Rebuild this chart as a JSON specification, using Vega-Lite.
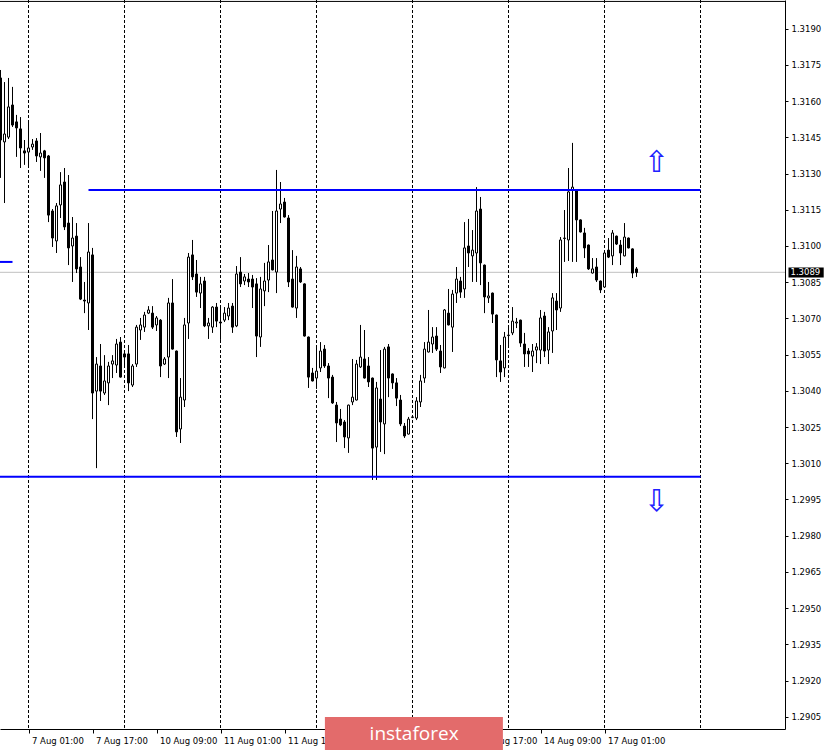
{
  "$schema": "https://vega.github.io/schema/vega-lite/v6.json",
  "width": 785,
  "height": 729,
  "autosize": {"type": "none"},
  "padding": {"left": 0, "top": 0, "right": 41, "bottom": 21},
  "background": "white",
  "config": {"view": {"stroke": null}},
  "datasets": {
    "candles": [
      {"i":1,"o":1.31696,"h":1.31729,"l":1.31282,"c":1.31439},
      {"i":2,"o":1.31431,"h":1.31679,"l":1.31178,"c":1.31464},
      {"i":3,"o":1.31451,"h":1.31696,"l":1.31443,"c":1.31576},
      {"i":4,"o":1.31584,"h":1.31659,"l":1.31493,"c":1.31501},
      {"i":5,"o":1.31514,"h":1.31543,"l":1.31369,"c":1.31489},
      {"i":6,"o":1.31485,"h":1.31534,"l":1.31323,"c":1.31406},
      {"i":7,"o":1.31394,"h":1.31439,"l":1.31336,"c":1.31385},
      {"i":8,"o":1.31389,"h":1.31514,"l":1.31327,"c":1.31406},
      {"i":9,"o":1.31410,"h":1.31443,"l":1.31398,"c":1.31422},
      {"i":10,"o":1.31435,"h":1.31447,"l":1.31348,"c":1.31373},
      {"i":11,"o":1.31369,"h":1.31468,"l":1.31311,"c":1.31385},
      {"i":12,"o":1.31394,"h":1.31398,"l":1.31282,"c":1.31365},
      {"i":13,"o":1.31373,"h":1.31377,"l":1.31099,"c":1.31128},
      {"i":14,"o":1.31145,"h":1.31153,"l":1.30996,"c":1.31033},
      {"i":15,"o":1.31021,"h":1.31178,"l":1.30971,"c":1.31166},
      {"i":16,"o":1.31170,"h":1.31306,"l":1.31116,"c":1.31253},
      {"i":17,"o":1.31265,"h":1.31323,"l":1.31066,"c":1.31079},
      {"i":18,"o":1.31095,"h":1.31294,"l":1.30921,"c":1.30992},
      {"i":19,"o":1.31000,"h":1.31120,"l":1.30851,"c":1.31033},
      {"i":20,"o":1.31041,"h":1.31095,"l":1.30888,"c":1.30905},
      {"i":21,"o":1.30913,"h":1.30954,"l":1.30776,"c":1.30780},
      {"i":22,"o":1.30776,"h":1.30851,"l":1.30722,"c":1.30772},
      {"i":23,"o":1.30764,"h":1.31095,"l":1.30652,"c":1.30975},
      {"i":24,"o":1.30963,"h":1.30992,"l":1.30283,"c":1.30391},
      {"i":25,"o":1.30399,"h":1.30540,"l":1.30080,"c":1.30511},
      {"i":26,"o":1.30503,"h":1.30594,"l":1.30358,"c":1.30399},
      {"i":27,"o":1.30391,"h":1.30548,"l":1.30383,"c":1.30441},
      {"i":28,"o":1.30433,"h":1.30520,"l":1.30341,"c":1.30503},
      {"i":29,"o":1.30511,"h":1.30548,"l":1.30453,"c":1.30524},
      {"i":30,"o":1.30507,"h":1.30615,"l":1.30474,"c":1.30594},
      {"i":31,"o":1.30602,"h":1.30623,"l":1.30455,"c":1.30457},
      {"i":32,"o":1.30553,"h":1.30561,"l":1.30495,"c":1.30540},
      {"i":33,"o":1.30553,"h":1.30590,"l":1.30399,"c":1.30433},
      {"i":34,"o":1.30424,"h":1.30511,"l":1.30416,"c":1.30503},
      {"i":35,"o":1.30511,"h":1.30673,"l":1.30499,"c":1.30664},
      {"i":36,"o":1.30652,"h":1.30702,"l":1.30611,"c":1.30673},
      {"i":37,"o":1.30664,"h":1.30727,"l":1.30644,"c":1.30714},
      {"i":38,"o":1.30722,"h":1.30751,"l":1.30718,"c":1.30735},
      {"i":39,"o":1.30722,"h":1.30751,"l":1.30656,"c":1.30664},
      {"i":40,"o":1.30673,"h":1.30710,"l":1.30648,"c":1.30702},
      {"i":41,"o":1.30693,"h":1.30697,"l":1.30457,"c":1.30503},
      {"i":42,"o":1.30511,"h":1.30540,"l":1.30507,"c":1.30532},
      {"i":43,"o":1.30540,"h":1.30785,"l":1.30453,"c":1.30764},
      {"i":44,"o":1.30764,"h":1.30863,"l":1.30571,"c":1.30573},
      {"i":45,"o":1.30565,"h":1.30567,"l":1.30209,"c":1.30230},
      {"i":46,"o":1.30242,"h":1.30453,"l":1.30184,"c":1.30374},
      {"i":47,"o":1.30362,"h":1.30702,"l":1.30333,"c":1.30673},
      {"i":48,"o":1.30681,"h":1.30971,"l":1.30615,"c":1.30954},
      {"i":49,"o":1.30963,"h":1.31025,"l":1.30859,"c":1.30872},
      {"i":50,"o":1.30884,"h":1.30942,"l":1.30789,"c":1.30809},
      {"i":51,"o":1.30805,"h":1.30872,"l":1.30743,"c":1.30843},
      {"i":52,"o":1.30855,"h":1.30872,"l":1.30664,"c":1.30669},
      {"i":53,"o":1.30669,"h":1.30702,"l":1.30615,"c":1.30681},
      {"i":54,"o":1.30664,"h":1.30751,"l":1.30640,"c":1.30747},
      {"i":55,"o":1.30747,"h":1.30764,"l":1.30664,"c":1.30689},
      {"i":56,"o":1.30685,"h":1.30747,"l":1.30611,"c":1.30681},
      {"i":57,"o":1.30693,"h":1.30747,"l":1.30685,"c":1.30722},
      {"i":58,"o":1.30710,"h":1.30764,"l":1.30693,"c":1.30743},
      {"i":59,"o":1.30751,"h":1.30764,"l":1.30640,"c":1.30664},
      {"i":60,"o":1.30669,"h":1.30917,"l":1.30664,"c":1.30884},
      {"i":61,"o":1.30892,"h":1.30954,"l":1.30830,"c":1.30843},
      {"i":62,"o":1.30855,"h":1.30884,"l":1.30838,"c":1.30872},
      {"i":63,"o":1.30863,"h":1.30888,"l":1.30830,"c":1.30851},
      {"i":64,"o":1.30863,"h":1.30880,"l":1.30743,"c":1.30830},
      {"i":65,"o":1.30843,"h":1.30867,"l":1.30540,"c":1.30627},
      {"i":66,"o":1.30623,"h":1.30872,"l":1.30582,"c":1.30822},
      {"i":67,"o":1.30814,"h":1.30930,"l":1.30751,"c":1.30855},
      {"i":68,"o":1.30859,"h":1.31004,"l":1.30809,"c":1.30934},
      {"i":69,"o":1.30942,"h":1.31145,"l":1.30899,"c":1.30901},
      {"i":70,"o":1.30892,"h":1.31315,"l":1.30805,"c":1.31145},
      {"i":71,"o":1.31153,"h":1.31265,"l":1.31095,"c":1.31174},
      {"i":72,"o":1.31182,"h":1.31199,"l":1.31118,"c":1.31120},
      {"i":73,"o":1.31116,"h":1.31128,"l":1.30830,"c":1.30851},
      {"i":74,"o":1.30863,"h":1.30983,"l":1.30745,"c":1.30747},
      {"i":75,"o":1.30743,"h":1.30959,"l":1.30702,"c":1.30913},
      {"i":76,"o":1.30905,"h":1.30913,"l":1.30847,"c":1.30851},
      {"i":77,"o":1.30843,"h":1.30845,"l":1.30625,"c":1.30627},
      {"i":78,"o":1.30623,"h":1.30625,"l":1.30412,"c":1.30457},
      {"i":79,"o":1.30474,"h":1.30495,"l":1.30439,"c":1.30441},
      {"i":80,"o":1.30453,"h":1.30582,"l":1.30408,"c":1.30482},
      {"i":81,"o":1.30495,"h":1.30602,"l":1.30478,"c":1.30565},
      {"i":82,"o":1.30573,"h":1.30590,"l":1.30495,"c":1.30503},
      {"i":83,"o":1.30503,"h":1.30515,"l":1.30370,"c":1.30453},
      {"i":84,"o":1.30457,"h":1.30466,"l":1.30346,"c":1.30350},
      {"i":85,"o":1.30341,"h":1.30354,"l":1.30188,"c":1.30267},
      {"i":86,"o":1.30283,"h":1.30325,"l":1.30254,"c":1.30259},
      {"i":87,"o":1.30271,"h":1.30279,"l":1.30163,"c":1.30209},
      {"i":88,"o":1.30205,"h":1.30343,"l":1.30143,"c":1.30341},
      {"i":89,"o":1.30354,"h":1.30532,"l":1.30341,"c":1.30374},
      {"i":90,"o":1.30362,"h":1.30528,"l":1.30360,"c":1.30511},
      {"i":91,"o":1.30499,"h":1.30673,"l":1.30495,"c":1.30540},
      {"i":92,"o":1.30532,"h":1.30652,"l":1.30451,"c":1.30453},
      {"i":93,"o":1.30503,"h":1.30540,"l":1.30416,"c":1.30437},
      {"i":94,"o":1.30453,"h":1.30455,"l":1.30031,"c":1.30163},
      {"i":95,"o":1.30167,"h":1.30437,"l":1.30031,"c":1.30412},
      {"i":96,"o":1.30366,"h":1.30569,"l":1.30147,"c":1.30271},
      {"i":97,"o":1.30263,"h":1.30582,"l":1.30138,"c":1.30573},
      {"i":98,"o":1.30582,"h":1.30594,"l":1.30374,"c":1.30453},
      {"i":99,"o":1.30470,"h":1.30472,"l":1.30408,"c":1.30433},
      {"i":100,"o":1.30433,"h":1.30453,"l":1.30337,"c":1.30370},
      {"i":101,"o":1.30362,"h":1.30383,"l":1.30254,"c":1.30263},
      {"i":102,"o":1.30254,"h":1.30267,"l":1.30205,"c":1.30213},
      {"i":103,"o":1.30221,"h":1.30292,"l":1.30219,"c":1.30283},
      {"i":104,"o":1.30290,"h":1.30300,"l":1.30287,"c":1.30292},
      {"i":105,"o":1.30287,"h":1.30374,"l":1.30279,"c":1.30358},
      {"i":106,"o":1.30354,"h":1.30466,"l":1.30333,"c":1.30441},
      {"i":107,"o":1.30453,"h":1.30602,"l":1.30433,"c":1.30573},
      {"i":108,"o":1.30561,"h":1.30735,"l":1.30559,"c":1.30602},
      {"i":109,"o":1.30594,"h":1.30664,"l":1.30557,"c":1.30623},
      {"i":110,"o":1.30627,"h":1.30664,"l":1.30565,"c":1.30573},
      {"i":111,"o":1.30565,"h":1.30590,"l":1.30474,"c":1.30499},
      {"i":112,"o":1.30495,"h":1.30739,"l":1.30493,"c":1.30735},
      {"i":113,"o":1.30722,"h":1.30822,"l":1.30671,"c":1.30673},
      {"i":114,"o":1.30664,"h":1.30818,"l":1.30561,"c":1.30801},
      {"i":115,"o":1.30805,"h":1.30913,"l":1.30764,"c":1.30863},
      {"i":116,"o":1.30855,"h":1.30872,"l":1.30785,"c":1.30809},
      {"i":117,"o":1.30822,"h":1.31099,"l":1.30785,"c":1.30992},
      {"i":118,"o":1.31000,"h":1.31112,"l":1.30913,"c":1.30971},
      {"i":119,"o":1.30959,"h":1.31066,"l":1.30851,"c":1.30983},
      {"i":120,"o":1.30971,"h":1.31244,"l":1.30851,"c":1.31145},
      {"i":121,"o":1.31153,"h":1.31203,"l":1.30838,"c":1.30930},
      {"i":122,"o":1.30921,"h":1.30923,"l":1.30722,"c":1.30789},
      {"i":123,"o":1.30785,"h":1.30851,"l":1.30764,"c":1.30793},
      {"i":124,"o":1.30805,"h":1.30807,"l":1.30681,"c":1.30718},
      {"i":125,"o":1.30714,"h":1.30716,"l":1.30457,"c":1.30528},
      {"i":126,"o":1.30524,"h":1.30590,"l":1.30437,"c":1.30478},
      {"i":127,"o":1.30495,"h":1.30644,"l":1.30457,"c":1.30623},
      {"i":128,"o":1.30629,"h":1.30664,"l":1.30590,"c":1.30631},
      {"i":129,"o":1.30640,"h":1.30747,"l":1.30631,"c":1.30689},
      {"i":130,"o":1.30681,"h":1.30702,"l":1.30660,"c":1.30685},
      {"i":131,"o":1.30693,"h":1.30695,"l":1.30582,"c":1.30598},
      {"i":132,"o":1.30594,"h":1.30640,"l":1.30499,"c":1.30553},
      {"i":133,"o":1.30565,"h":1.30577,"l":1.30499,"c":1.30553},
      {"i":134,"o":1.30544,"h":1.30594,"l":1.30478,"c":1.30565},
      {"i":135,"o":1.30569,"h":1.30598,"l":1.30515,"c":1.30582},
      {"i":136,"o":1.30569,"h":1.30735,"l":1.30511,"c":1.30702},
      {"i":137,"o":1.30710,"h":1.30727,"l":1.30540,"c":1.30565},
      {"i":138,"o":1.30569,"h":1.30664,"l":1.30511,"c":1.30644},
      {"i":139,"o":1.30648,"h":1.30805,"l":1.30557,"c":1.30785},
      {"i":140,"o":1.30772,"h":1.30805,"l":1.30652,"c":1.30735},
      {"i":141,"o":1.30743,"h":1.31037,"l":1.30727,"c":1.31025},
      {"i":142,"o":1.31031,"h":1.31149,"l":1.30934,"c":1.31033},
      {"i":143,"o":1.31025,"h":1.31323,"l":1.30938,"c":1.31224},
      {"i":144,"o":1.31232,"h":1.31427,"l":1.30934,"c":1.31244},
      {"i":145,"o":1.31232,"h":1.31234,"l":1.30934,"c":1.31108},
      {"i":146,"o":1.31108,"h":1.31110,"l":1.31056,"c":1.31058},
      {"i":147,"o":1.31054,"h":1.31075,"l":1.30950,"c":1.30992},
      {"i":148,"o":1.31004,"h":1.31006,"l":1.30901,"c":1.30905},
      {"i":149,"o":1.30888,"h":1.30950,"l":1.30886,"c":1.30905},
      {"i":150,"o":1.30913,"h":1.30950,"l":1.30851,"c":1.30859},
      {"i":151,"o":1.30855,"h":1.30857,"l":1.30805,"c":1.30818},
      {"i":152,"o":1.30830,"h":1.30973,"l":1.30828,"c":1.30971},
      {"i":153,"o":1.30983,"h":1.31033,"l":1.30950,"c":1.30954},
      {"i":154,"o":1.30959,"h":1.31066,"l":1.30921,"c":1.31054},
      {"i":155,"o":1.31041,"h":1.31043,"l":1.31004,"c":1.31008},
      {"i":156,"o":1.31004,"h":1.31025,"l":1.30921,"c":1.30971},
      {"i":157,"o":1.30959,"h":1.31095,"l":1.30957,"c":1.31037},
      {"i":158,"o":1.31033,"h":1.31035,"l":1.30990,"c":1.30992},
      {"i":159,"o":1.30988,"h":1.30990,"l":1.30867,"c":1.30888},
      {"i":160,"o":1.30905,"h":1.30913,"l":1.30872,"c":1.30890}
    ],
    "separators": [{"i":8},{"i":32},{"i":56},{"i":80},{"i":104},{"i":128},{"i":152},{"i":176}],
    "levels": [
      {"a":23,"b":176,"p":1.31232},
      {"a":0,"b":176,"p":1.30044},
      {"a":0,"b":4,"p":1.30934}
    ],
    "frame": [{"a":0.875,"b":197.125,"p":1.32013}],
    "bid": [{"p":1.30891,"label":"1.3089","lo":1.30870,"hi":1.30911,"a":198,"b":206.8}],
    "arrows": [{"i":165,"p":1.31344,"t":"⇧"},{"i":165,"p":1.29940,"t":"⇩"}],
    "logo": [{"a":82.1,"b":126.6,"top":1.29049,"bottom":1.28912,"mid":104.4,"pm":1.28979,"t":"instaforex"}]
  },
  "layer": [
    {
      "data": {"name": "bid"},
      "mark": {"type": "rule", "color": "#c0c0c0", "strokeWidth": 1},
      "encoding": {
        "y": {
          "field": "p", "type": "quantitative",
          "scale": {"domain": [1.289994, 1.320189], "nice": false, "zero": false},
          "axis": {
            "orient": "right", "title": null,
            "values": [1.2905,1.2920,1.2935,1.2950,1.2965,1.2980,1.2995,1.3010,1.3025,1.3040,1.3055,1.3070,1.3085,1.3100,1.3115,1.3130,1.3145,1.3160,1.3175,1.3190],
            "tickCount": 40,
            "format": ".4f", "grid": false, "domainColor": "black", "tickColor": "black",
            "tickSize": 3, "labelPadding": 3, "labelFont": "DejaVu Sans", "labelFontSize": 8.5,
            "labelColor": "black", "labelOverlap": false, "labelFlush": false, "zindex": 0
          }
        },
        "x": {
          "datum": 0.875, "type": "quantitative",
          "scale": {"domain": [0.875, 197.125], "nice": false, "zero": false, "padding": 0},
          "axis": {
            "orient": "bottom", "title": null, "grid": false,
            "values": [8,24,40,56,72,88,104,120,136,152],
            "tickCount": 40,
            "labelExpr": "datum.value == 8 ? '7 Aug 01:00' : datum.value == 24 ? '7 Aug 17:00' : datum.value == 40 ? '10 Aug 09:00' : datum.value == 56 ? '11 Aug 01:00' : datum.value == 72 ? '11 Aug 17:00' : datum.value == 88 ? '12 Aug 09:00' : datum.value == 104 ? '13 Aug 01:00' : datum.value == 120 ? '13 Aug 17:00' : datum.value == 136 ? '14 Aug 09:00' : '17 Aug 01:00'",
            "labelAlign": "left", "labelOffset": 3, "labelBaseline": "top", "labelPadding": 3,
            "tickSize": 4, "domainColor": "black", "tickColor": "black",
            "labelFont": "DejaVu Sans", "labelFontSize": 8.5, "labelColor": "black",
            "labelOverlap": false, "labelFlush": false, "zindex": 0
          }
        },
        "x2": {"datum": 197.125}
      }
    },
    {
      "data": {"name": "frame"},
      "mark": {"type": "rule", "color": "black", "strokeWidth": 1},
      "encoding": {
        "x": {"field": "a", "type": "quantitative"},
        "x2": {"field": "b"},
        "y": {"field": "p", "type": "quantitative"}
      }
    },
    {
      "data": {"name": "separators"},
      "mark": {"type": "rule", "color": "black", "strokeWidth": 1, "strokeDash": [3, 2]},
      "encoding": {"x": {"field": "i", "type": "quantitative"}}
    },
    {
      "data": {"name": "candles"},
      "mark": {"type": "rule", "color": "black", "strokeWidth": 1},
      "encoding": {
        "x": {"field": "i", "type": "quantitative"},
        "y": {"field": "l", "type": "quantitative"},
        "y2": {"field": "h"}
      }
    },
    {
      "data": {"name": "candles"},
      "mark": {"type": "bar", "size": 2, "stroke": "black", "strokeWidth": 1},
      "encoding": {
        "x": {"field": "i", "type": "quantitative"},
        "y": {"field": "o", "type": "quantitative"},
        "y2": {"field": "c"},
        "fill": {"condition": {"test": "datum.c < datum.o", "value": "black"}, "value": "white"}
      }
    },
    {
      "data": {"name": "levels"},
      "mark": {"type": "rule", "color": "#0000ff", "strokeWidth": 2, "clip": true},
      "encoding": {
        "x": {"field": "a", "type": "quantitative"},
        "x2": {"field": "b"},
        "y": {"field": "p", "type": "quantitative"}
      }
    },
    {
      "data": {"name": "arrows"},
      "mark": {"type": "text", "color": "#2020ff", "font": "DejaVu Sans", "fontSize": 30, "align": "center", "baseline": "middle"},
      "encoding": {
        "x": {"field": "i", "type": "quantitative"},
        "y": {"field": "p", "type": "quantitative"},
        "text": {"field": "t"}
      }
    },
    {
      "data": {"name": "bid"},
      "mark": {"type": "rect", "color": "black", "clip": false},
      "encoding": {
        "x": {"field": "a", "type": "quantitative"},
        "x2": {"field": "b"},
        "y": {"field": "lo", "type": "quantitative"},
        "y2": {"field": "hi"}
      }
    },
    {
      "data": {"name": "bid"},
      "mark": {"type": "text", "color": "white", "font": "DejaVu Sans", "fontSize": 8.5, "align": "left", "baseline": "middle", "dx": 2, "clip": false},
      "encoding": {
        "x": {"field": "a", "type": "quantitative"},
        "y": {"field": "p", "type": "quantitative"},
        "text": {"field": "label"}
      }
    },
    {
      "data": {"name": "logo"},
      "mark": {"type": "rect", "color": "#e36b6b", "clip": false},
      "encoding": {
        "x": {"field": "a", "type": "quantitative"},
        "x2": {"field": "b"},
        "y": {"field": "top", "type": "quantitative"},
        "y2": {"field": "bottom"}
      }
    },
    {
      "data": {"name": "logo"},
      "mark": {"type": "text", "color": "white", "font": "Open Sans", "fontSize": 19, "align": "center", "baseline": "middle", "clip": false},
      "encoding": {
        "x": {"field": "mid", "type": "quantitative"},
        "y": {"field": "pm", "type": "quantitative"},
        "text": {"field": "t"}
      }
    }
  ]
}
